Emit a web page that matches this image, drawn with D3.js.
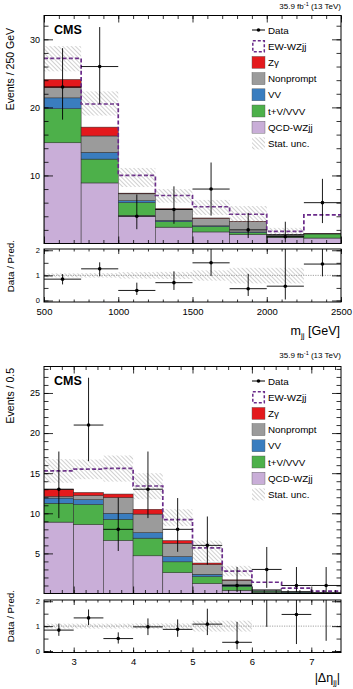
<!DOCTYPE html>
<html>
<head>
<meta charset="utf-8">
<script src="https://cdnjs.cloudflare.com/ajax/libs/d3/7.8.5/d3.min.js"></script>
<style>
body { margin:0; background:#fff; }
svg { display:block; font-family:"Liberation Sans", Arial, sans-serif; }
</style>
</head>
<body>
<div id="chart"></div>
<script>
// ---------- m_jj distribution (bins of 250 GeV)
var mjjEdges     = [500, 750, 1000, 1250, 1500, 1750, 2000, 2250, 2500];
var mjjQCD       = [14.8, 8.9, 4.1, 2.4, 1.7, 1.3, 0.9, 0.8];
var mjjTVVVV     = [5.0, 3.5, 1.9, 0.8, 0.8, 0.3, 0.2, 0.6];
var mjjVV        = [1.6, 1.0, 0.3, 0.2, 0.1, 0.1, 0.05, 0.05];
var mjjNonprompt = [1.5, 2.4, 1.0, 1.65, 1.1, 1.5, 0.13, 0.03];
var mjjZg        = [1.2, 1.3, 0.1, 0.05, 0.05, 0.05, 0.02, 0.02];
var mjjEW        = [3.1, 3.4, 2.6, 1.95, 1.65, 1.05, 0.47, 2.7];
var mjjStatLo    = [25.3, 18.8, 8.3, 6.0, 4.2, 3.1, 1.3, null];
var mjjStatHi    = [29.0, 22.35, 11.1, 8.0, 6.4, 5.5, 2.3, null];
var mjjData      = [23, 26, 4, 5, 8, 2, 1, 6];
var mjjDataLo    = [18.2, 20.5, 2.1, 2.9, 4.1, 0.8, 0.15, 3.0];
var mjjDataHi    = [28.7, 31.8, 7.2, 8.4, 11.9, 4.5, 3.2, 9.5];
var mjjRatio     = [0.85, 1.26, 0.4, 0.71, 1.5, 0.47, 0.57, 1.45];
var mjjRatioLo   = [0.64, 0.96, 0.22, 0.42, 0.98, 0.18, 0.04, 0.96];
var mjjRatioHi   = [1.05, 1.52, 0.71, 1.16, 2.2, 1.06, 2.2, 2.3];
var mjjBandLo    = [0.92, 0.91, 0.87, 0.86, 0.79, 0.68, 0.68, null];
var mjjBandHi    = [1.08, 1.09, 1.13, 1.14, 1.2, 1.3, 1.3, null];

// ---------- |delta eta_jj| distribution (bins of 0.5)
var detaEdges     = [2.5, 3, 3.5, 4, 4.5, 5, 5.5, 6, 6.5, 7, 7.5];
var detaQCD       = [8.9, 8.6, 6.6, 4.7, 2.6, 1.25, 0.4, 0.15, 0.05, 0.03];
var detaTVVVV     = [2.35, 2.5, 2.65, 2.2, 1.35, 0.85, 0.5, 0.15, 0.1, 0.05];
var detaVV        = [0.65, 0.6, 0.75, 0.7, 0.65, 0.3, 0.2, 0.05, 0.05, 0.02];
var detaNonprompt = [0.2, 0.5, 1.95, 2.3, 1.65, 1.2, 0.55, 0.15, 0.05, 0.02];
var detaZg        = [0.9, 0.4, 0.45, 0.6, 0.35, 0.2, 0.05, 0, 0, 0];
var detaEW        = [2.3, 2.9, 3.2, 2.9, 2.6, 1.9, 1.1, 0.9, 0.43, 0.18];
var detaStatLo    = [13.8, 14.25, 13.95, 11.75, 8.4, 4.0, 2.15, null, null, null];
var detaStatHi    = [16.75, 16.7, 17.2, 15.0, 10.5, 6.6, 3.45, null, null, null];
var detaData      = [13, 21, 8, 13, 8, 6, 1, 3, 1, 1];
var detaDataLo    = [9.4, 16.5, 5.3, 9.4, 5.2, 3.6, 0.17, 0.7, 0.17, 0.17];
var detaDataHi    = [17.7, 26.9, 11.95, 17.7, 11.9, 9.6, 3.3, 5.8, 3.3, 3.3];
var detaRatio     = [0.84, 1.33, 0.5, 0.97, 0.87, 1.08, 0.35, 2.14, 1.47, 3.3];
var detaRatioLo   = [0.61, 1.04, 0.3, 0.64, 0.57, 0.64, 0.07, 0.97, 0.28, 0.41];
var detaRatioHi   = [1.1, 1.67, 0.75, 1.31, 1.27, 1.7, 1.17, 4.0, 2.3, 4.0];
var detaBandLo    = [0.9, 0.9, 0.9, 0.89, 0.89, 0.78, 0.78, null, null, null];
var detaBandHi    = [1.1, 1.1, 1.1, 1.11, 1.11, 1.22, 1.22, null, null, null];

// ---------- legend / processes
var procKeys   = ["qcd", "tvvv", "vv", "nonprompt", "zg", "ew"];
var procColors = { qcd:"#c9aed8", tvvv:"#4db04a", vv:"#3a7dbf", nonprompt:"#9b9b9b", zg:"#e4191c", ew:"#ffffff" };
var legendLabels = ["Data", "EW-WZjj", "Z\u03b3", "Nonprompt", "VV", "t+V/VVV", "QCD-WZjj", "Stat. unc."];
var legendKeys   = ["data", "ew", "zg", "nonprompt", "vv", "tvvv", "qcd", "stat"];
var ewColor = "#6a2a8a";

var W = 353, H = 689;
var LEFT = 44, RIGHT = 341;
var intFmt = d3.format("d");

var svg = d3.select("#chart").append("svg")
    .attr("width", W)
    .attr("height", H);

var defs = svg.append("defs");
var pat = defs.append("pattern")
    .attr("id", "hatch")
    .attr("patternUnits", "userSpaceOnUse")
    .attr("width", 3)
    .attr("height", 3)
    .attr("patternTransform", "rotate(-45)");
pat.append("line")
    .attr("x1", 0).attr("y1", 0).attr("x2", 0).attr("y2", 3)
    .attr("stroke", "#8c8c8c")
    .attr("stroke-width", 0.8);

var panels = [
    {
        id: "mjj",
        edges: mjjEdges, qcd: mjjQCD, tvvv: mjjTVVVV, vv: mjjVV, nonprompt: mjjNonprompt, zg: mjjZg, ew: mjjEW,
        statLo: mjjStatLo, statHi: mjjStatHi,
        data: mjjData, dataLo: mjjDataLo, dataHi: mjjDataHi,
        ratio: mjjRatio, ratioLo: mjjRatioLo, ratioHi: mjjRatioHi,
        bandLo: mjjBandLo, bandHi: mjjBandHi,
        mainTop: 15.5, mainBot: 243.5, ratTop: 249, ratBot: 302,
        yMax: 33.5, yMajor: [10, 20, 30], yMinor: d3.range(2, 34, 2),
        xMajor: [500, 1000, 1500, 2000, 2500], xMinor: d3.range(500, 2501, 100),
        yTitle: "Events / 250 GeV", yTitleEnd: 28,
        ratioTitleEnd: 240,
        lumiY: 9, xTitle: ["m", "jj", " [GeV]"], xTitleY: 335
    },
    {
        id: "deta",
        edges: detaEdges, qcd: detaQCD, tvvv: detaTVVVV, vv: detaVV, nonprompt: detaNonprompt, zg: detaZg, ew: detaEW,
        statLo: detaStatLo, statHi: detaStatHi,
        data: detaData, dataLo: detaDataLo, dataHi: detaDataHi,
        ratio: detaRatio, ratioLo: detaRatioLo, ratioHi: detaRatioHi,
        bandLo: detaBandLo, bandHi: detaBandHi,
        mainTop: 366.5, mainBot: 593.5, ratTop: 600, ratBot: 652.5,
        yMax: 28.3, yMajor: [5, 10, 15, 20, 25], yMinor: d3.range(1, 29, 1),
        xMajor: [3, 4, 5, 6, 7], xMinor: d3.range(13, 38).map(function (d) { return d / 5; }),
        yTitle: "Events / 0.5", yTitleEnd: 368,
        ratioTitleEnd: 590,
        lumiY: 358, xTitle: ["|\u0394\u03b7", "jj", "|"], xTitleY: 682
    }
];

panels.forEach(drawPanel);

function drawPanel(p) {
    var w = RIGHT - LEFT;
    var hMain = p.mainBot - p.mainTop;
    var hRat = p.ratBot - p.ratTop;
    var nb = p.data.length;

    var x = d3.scaleLinear().domain([p.edges[0], p.edges[nb]]).range([0, w]);
    var y = d3.scaleLinear().domain([0, p.yMax]).range([hMain, 0]);
    var yr = d3.scaleLinear().domain([-0.06, 2.05]).range([hRat, 0]);

    var rows = d3.range(nb).map(function (i) {
        return { x0: p.edges[i], x1: p.edges[i + 1], qcd: p.qcd[i], tvvv: p.tvvv[i], vv: p.vv[i],
                 nonprompt: p.nonprompt[i], zg: p.zg[i], ew: p.ew[i] };
    });
    var series = d3.stack().keys(procKeys)(rows);

    // ---- main pad
    var g = svg.append("g").attr("transform", "translate(" + LEFT + "," + p.mainTop + ")");
    defs.append("clipPath").attr("id", "clip-main-" + p.id)
        .append("rect").attr("width", w).attr("height", hMain);

    var plot = g.append("g").attr("clip-path", "url(#clip-main-" + p.id + ")");

    series.forEach(function (s) {
        if (s.key === "ew") return;
        plot.append("g").selectAll("rect")
            .data(s)
            .enter()
            .append("rect")
            .attr("x", function (d) { return x(d.data.x0); })
            .attr("width", function (d) { return x(d.data.x1) - x(d.data.x0); })
            .attr("y", function (d) { return y(d[1]); })
            .attr("height", function (d) { return Math.max(0, y(d[0]) - y(d[1])); })
            .attr("fill", procColors[s.key])
            .attr("stroke", "#2b2b2b")
            .attr("stroke-width", 0.5);
    });

    // EW-WZjj dashed outline on top of the stack
    var ewS = series[series.length - 1];
    var pts = [];
    ewS.forEach(function (d) {
        pts.push([x(d.data.x0), y(d[1])]);
        pts.push([x(d.data.x1), y(d[1])]);
    });
    plot.append("path")
        .attr("d", d3.line()(pts))
        .attr("fill", "none")
        .attr("stroke", ewColor)
        .attr("stroke-width", 1.7)
        .attr("stroke-dasharray", "4,2.2");

    // stat. unc. band
    plot.append("g").selectAll("rect")
        .data(d3.range(nb).filter(function (i) { return p.statLo[i] !== null; }))
        .enter()
        .append("rect")
        .attr("x", function (i) { return x(p.edges[i]); })
        .attr("width", function (i) { return x(p.edges[i + 1]) - x(p.edges[i]); })
        .attr("y", function (i) { return y(p.statHi[i]); })
        .attr("height", function (i) { return y(p.statLo[i]) - y(p.statHi[i]); })
        .attr("fill", "url(#hatch)");

    drawPoints(plot, x, y, p.edges, p.data, p.dataLo, p.dataHi);

    drawAxes(g, x, y, w, hMain, p.xMajor, p.xMinor, p.yMajor, p.yMinor, 9, 4.5, 7, 3.5, false, 9);

    // CMS label and lumi
    g.append("text")
        .attr("x", 10).attr("y", 18)
        .attr("font-size", 12.5).attr("font-weight", "bold")
        .text("CMS");

    var lumi = svg.append("text")
        .attr("x", RIGHT).attr("y", p.lumiY)
        .attr("text-anchor", "end")
        .attr("font-size", 8);
    lumi.append("tspan").text("35.9 fb");
    lumi.append("tspan").attr("dy", -3).attr("font-size", 5.5).text("-1");
    lumi.append("tspan").attr("dy", 3).text(" (13 TeV)");

    // legend
    var lg = g.append("g").attr("transform", "translate(" + (252 - LEFT) + ",14.5)");
    legendKeys.forEach(function (k, i) {
        var row = lg.append("g").attr("transform", "translate(0," + (i * 16.2) + ")");
        if (k === "data") {
            row.append("line").attr("x1", 0).attr("x2", 13).attr("y1", 0).attr("y2", 0)
                .attr("stroke", "#000").attr("stroke-width", 1);
            row.append("circle").attr("cx", 6.5).attr("cy", 0).attr("r", 1.8).attr("fill", "#000");
        } else if (k === "ew") {
            row.append("rect").attr("x", 0.8).attr("y", -5.5).attr("width", 11.5).attr("height", 11)
                .attr("fill", "#fff").attr("stroke", ewColor).attr("stroke-width", 1.5)
                .attr("stroke-dasharray", "3,2");
        } else if (k === "stat") {
            row.append("rect").attr("x", 0).attr("y", -6).attr("width", 13).attr("height", 12)
                .attr("fill", "url(#hatch)");
        } else {
            row.append("rect").attr("x", 0).attr("y", -6).attr("width", 13).attr("height", 12)
                .attr("fill", procColors[k]).attr("stroke", "#555").attr("stroke-width", 0.4);
        }
        row.append("text")
            .attr("x", 16).attr("y", 3.6)
            .attr("font-size", 9.8)
            .text(legendLabels[i]);
    });

    // y title
    svg.append("text")
        .attr("transform", "translate(14," + p.yTitleEnd + ") rotate(-90)")
        .attr("text-anchor", "end")
        .attr("font-size", 10.5)
        .text(p.yTitle);

    // ---- ratio pad
    var gr = svg.append("g").attr("transform", "translate(" + LEFT + "," + p.ratTop + ")");
    defs.append("clipPath").attr("id", "clip-rat-" + p.id)
        .append("rect").attr("width", w).attr("height", hRat);
    var rplot = gr.append("g").attr("clip-path", "url(#clip-rat-" + p.id + ")");

    rplot.append("g").selectAll("rect")
        .data(d3.range(nb).filter(function (i) { return p.bandLo[i] !== null; }))
        .enter()
        .append("rect")
        .attr("x", function (i) { return x(p.edges[i]); })
        .attr("width", function (i) { return x(p.edges[i + 1]) - x(p.edges[i]); })
        .attr("y", function (i) { return yr(p.bandHi[i]); })
        .attr("height", function (i) { return yr(p.bandLo[i]) - yr(p.bandHi[i]); })
        .attr("fill", "url(#hatch)");

    rplot.append("line")
        .attr("x1", 0).attr("x2", w)
        .attr("y1", yr(1)).attr("y2", yr(1))
        .attr("stroke", "#8a8a8a")
        .attr("stroke-width", 0.8)
        .attr("stroke-dasharray", "1.2,1.2");

    drawPoints(rplot, x, yr, p.edges, p.ratio, p.ratioLo, p.ratioHi);

    drawAxes(gr, x, yr, w, hRat, p.xMajor, p.xMinor, [0, 1, 2], [0, 0.5, 1, 1.5, 2], 9, 4.5, 5, 2.5, true, 7.5);

    svg.append("text")
        .attr("transform", "translate(14," + p.ratioTitleEnd + ") rotate(-90)")
        .attr("text-anchor", "end")
        .attr("font-size", 9.8)
        .text("Data / Pred.");

    // x title
    var xt = svg.append("text")
        .attr("x", RIGHT - 1).attr("y", p.xTitleY)
        .attr("text-anchor", "end")
        .attr("font-size", 12.5);
    xt.append("tspan").text(p.xTitle[0]);
    xt.append("tspan").attr("dy", 3).attr("font-size", 8).text(p.xTitle[1]);
    xt.append("tspan").attr("dy", -3).text(p.xTitle[2]);
}

function drawPoints(g, x, y, edges, vals, lo, hi) {
    var pg = g.append("g");
    var idx = d3.range(vals.length);
    pg.selectAll("line.v")
        .data(idx).enter().append("line")
        .attr("class", "v")
        .attr("x1", function (i) { return x((edges[i] + edges[i + 1]) / 2); })
        .attr("x2", function (i) { return x((edges[i] + edges[i + 1]) / 2); })
        .attr("y1", function (i) { return y(lo[i]); })
        .attr("y2", function (i) { return y(hi[i]); })
        .attr("stroke", "#000").attr("stroke-width", 0.9);
    pg.selectAll("line.h")
        .data(idx).enter().append("line")
        .attr("class", "h")
        .attr("x1", function (i) { return x(edges[i]); })
        .attr("x2", function (i) { return x(edges[i + 1]); })
        .attr("y1", function (i) { return y(vals[i]); })
        .attr("y2", function (i) { return y(vals[i]); })
        .attr("stroke", "#000").attr("stroke-width", 0.9);
    pg.selectAll("circle")
        .data(idx).enter().append("circle")
        .attr("cx", function (i) { return x((edges[i] + edges[i + 1]) / 2); })
        .attr("cy", function (i) { return y(vals[i]); })
        .attr("r", 1.8)
        .attr("fill", "#000");
}

function drawAxes(g, x, y, w, h, xMajor, xMinor, yMajor, yMinor, yTick, yTickMin, xTick, xTickMin, xLabels, yFont) {
    var ax = [];
    ax.push(g.append("g").call(d3.axisLeft(y).tickValues(yMajor).tickSize(-yTick).tickPadding(4).tickFormat(intFmt)));
    ax.push(g.append("g").call(d3.axisLeft(y).tickValues(yMinor).tickSize(-yTickMin).tickFormat("")));
    ax.push(g.append("g").attr("transform", "translate(" + w + ",0)")
        .call(d3.axisRight(y).tickValues(yMajor).tickSize(-yTick).tickFormat("")));
    ax.push(g.append("g").attr("transform", "translate(" + w + ",0)")
        .call(d3.axisRight(y).tickValues(yMinor).tickSize(-yTickMin).tickFormat("")));
    ax.push(g.append("g").call(d3.axisTop(x).tickValues(xMajor).tickSize(-xTick).tickFormat("")));
    ax.push(g.append("g").call(d3.axisTop(x).tickValues(xMinor).tickSize(-xTickMin).tickFormat("")));
    var xb = g.append("g").attr("transform", "translate(0," + h + ")")
        .call(d3.axisBottom(x).tickValues(xMajor).tickSize(-xTick).tickPadding(6).tickFormat(intFmt));
    if (!xLabels) xb.selectAll("text").remove();
    ax.push(xb);
    ax.push(g.append("g").attr("transform", "translate(0," + h + ")")
        .call(d3.axisBottom(x).tickValues(xMinor).tickSize(-xTickMin).tickFormat("")));

    ax.forEach(function (a) {
        a.select(".domain").remove();
        a.selectAll("line").attr("stroke", "#000").attr("stroke-width", 0.8);
        a.selectAll("text").attr("font-size", yFont).attr("font-family", "Liberation Sans, Arial, sans-serif");
    });
    xb.selectAll("text").attr("font-size", 9.5);

    g.append("rect")
        .attr("width", w).attr("height", h)
        .attr("fill", "none")
        .attr("stroke", "#000")
        .attr("stroke-width", 1);
}
</script>
</body>
</html>
